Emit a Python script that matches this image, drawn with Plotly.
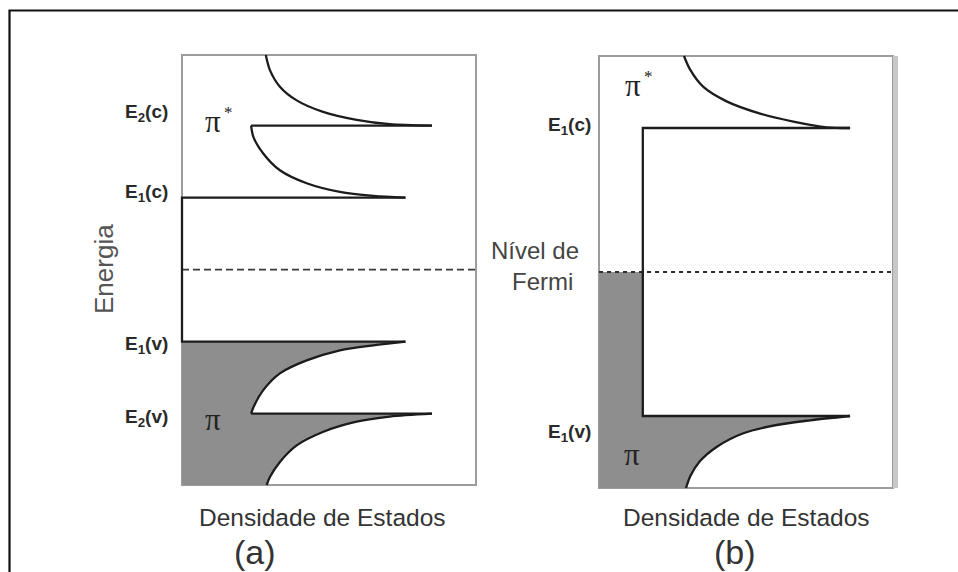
import plotly.graph_objects as go

# ---------------- data: density of states (arb. units) vs energy ----------------
# Panel (a): semiconducting tube, van Hove singularities at E = ±1, ±2
a_levels_c = [2.0, 1.0]          # E2(c), E1(c)
a_levels_v = [-1.0, -2.0]        # E1(v), E2(v)
a_top_dos = [0.285, 0.299, 0.333, 0.390, 0.480, 0.594, 0.707, 0.850]
a_top_E = [2.98, 2.77, 2.54, 2.35, 2.19, 2.08, 2.02, 2.00]
a_c1_dos = [0.235, 0.243, 0.277, 0.333, 0.424, 0.537, 0.651, 0.760]
a_c1_E = [2.00, 1.84, 1.61, 1.38, 1.20, 1.08, 1.025, 1.00]
a_v1_dos = [0.760, 0.651, 0.537, 0.424, 0.333, 0.277, 0.243, 0.235]
a_v1_E = [-1.00, -1.05, -1.12, -1.26, -1.44, -1.67, -1.91, -2.00]
a_v2_dos = [0.850, 0.707, 0.594, 0.481, 0.390, 0.333, 0.299, 0.288]
a_v2_E = [-2.00, -2.04, -2.11, -2.25, -2.44, -2.67, -2.88, -2.99]

# Panel (b): metallic tube, constant DOS inside the gap, singularities at E = ±2
b_levels = [2.0, -2.0]           # E1(c), E1(v)
b_plateau = 0.149
b_top_dos = [0.289, 0.310, 0.355, 0.434, 0.548, 0.661, 0.775, 0.854]
b_top_E = [3.00, 2.81, 2.57, 2.37, 2.20, 2.09, 2.01, 2.00]
b_v1_dos = [0.854, 0.718, 0.604, 0.491, 0.400, 0.343, 0.310, 0.296]
b_v1_E = [-2.00, -2.06, -2.125, -2.24, -2.43, -2.63, -2.84, -3.00]

fermi = 0.0

# ---------------- layout helpers ----------------
W, H = 958, 572
A_X, A_Y = [0.0, 1.0], [-2.99, 2.98]
B_X, B_Y = [0.0, 1.0], [-3.0, 3.0]


def frame(box, xr, yr, pad=0.03):
    l, t, r, b = box
    sx = (r - l) / (xr[1] - xr[0])
    sy = (b - t) / (yr[1] - yr[0])
    px = pad * (xr[1] - xr[0])
    py = pad * (yr[1] - yr[0])
    return ([xr[0] - px, xr[1] + px], [yr[0] - py, yr[1] + py],
            [(l - px * sx) / W, (r + px * sx) / W],
            [1 - (b + py * sy) / H, 1 - (t - py * sy) / H])


axr, ayr, axd, ayd = frame((182, 55, 476, 485), A_X, A_Y)
bxr, byr, bxd, byd = frame((599, 56, 893, 488), B_X, B_Y)

INK = "#1c1c1c"
FILL = "#8e8e8e"
BOX = "#9c9c9c"
SANS = "Liberation Sans, Arial, sans-serif"
SERIF = "Liberation Serif, Times New Roman, serif"

fig = go.Figure()


def add(x, y, ax, **kw):
    xa, ya = ("x", "y") if ax == "a" else ("x2", "y2")
    fig.add_trace(go.Scatter(x=x, y=y, xaxis=xa, yaxis=ya, mode="lines",
                             hoverinfo="skip", showlegend=False, **kw))


# ----- panel (a) -----
# occupied states (valence band) shaded
add([0] + a_v1_dos + a_v2_dos + [0], [a_levels_v[0]] + a_v1_E + a_v2_E + [A_Y[0]], "a",
    fill="toself", fillcolor=FILL, line=dict(width=0))
add(A_X, [fermi, fermi], "a", line=dict(color="#3a3a3a", width=1.6, dash="7px,4px"))
spl = dict(color=INK, width=2.3, shape="spline", smoothing=0.8)
lin = dict(color=INK, width=2.3)
add(a_top_dos, a_top_E, "a", line=spl)
add([a_top_dos[-1], a_c1_dos[0]], [a_levels_c[0]] * 2, "a", line=lin)
add(a_c1_dos, a_c1_E, "a", line=spl)
add([a_c1_dos[-1], 0, 0, a_v1_dos[0]],
    [a_levels_c[1], a_levels_c[1], a_levels_v[0], a_levels_v[0]], "a", line=lin)
add(a_v1_dos, a_v1_E, "a", line=spl)
add([a_v1_dos[-1], a_v2_dos[0]], [a_levels_v[1]] * 2, "a", line=lin)
add(a_v2_dos, a_v2_E, "a", line=spl)

# ----- panel (b) -----
add([0, b_plateau, b_plateau] + b_v1_dos + [0],
    [fermi, fermi, b_levels[1]] + b_v1_E + [B_Y[0]], "b",
    fill="toself", fillcolor=FILL, line=dict(width=0))
add(B_X, [fermi, fermi], "b", line=dict(color="#2e2e2e", width=2, dash="4px,4px"))
add(b_top_dos, b_top_E, "b", line=spl)
add([b_top_dos[-1], b_plateau, b_plateau, b_v1_dos[0]],
    [b_levels[0], b_levels[0], b_levels[1], b_levels[1]], "b", line=lin)
add(b_v1_dos, b_v1_E, "b", line=spl)

# ---------------- axes ----------------
hidden = dict(visible=False, fixedrange=True)
fig.update_layout(
    xaxis=dict(range=axr, domain=axd, anchor="y", **hidden),
    yaxis=dict(range=ayr, domain=ayd, anchor="x", **hidden),
    xaxis2=dict(range=bxr, domain=bxd, anchor="y2", **hidden),
    yaxis2=dict(range=byr, domain=byd, anchor="x2", **hidden),
)

shapes = [
    # outer frame
    dict(type="rect", xref="paper", yref="paper", x0=9.5 / W, x1=1.2,
         y0=-0.2, y1=1 - 10.5 / H, line=dict(color="#111", width=2.2)),
    # plot boxes
    dict(type="rect", xref="x", yref="y", x0=A_X[0], x1=A_X[1], y0=A_Y[0], y1=A_Y[1],
         line=dict(color=BOX, width=2), layer="below"),
    dict(type="rect", xref="x2", yref="y2", x0=B_X[0], x1=B_X[1], y0=B_Y[0], y1=B_Y[1],
         line=dict(color=BOX, width=2), layer="below"),
    dict(type="rect", xref="paper", yref="y2", x0=893 / W, x1=898 / W,
         y0=B_Y[0], y1=B_Y[1], line=dict(width=0), fillcolor="#c8c8c8"),
]
fig.update_layout(shapes=shapes)

ann = []


def txt(text, x, y, size, color="#333", family=SANS, yref="paper", yshift=0, **kw):
    ann.append(dict(text=text, x=x / W, y=(1 - y / H) if yref == "paper" else y,
                    xref="paper", yref=yref, yshift=yshift, showarrow=False,
                    font=dict(size=size, color=color, family=family),
                    xanchor=kw.pop("xanchor", "center"), yanchor=kw.pop("yanchor", "middle"), **kw))


lab = 19
lc = "#2a2a2a"
txt("<b>E<sub>2</sub>(c)</b>", 146, a_levels_c[0], lab, lc, yref="y", yshift=13)
txt("<b>E<sub>1</sub>(c)</b>", 146, a_levels_c[1], lab, lc, yref="y", yshift=5)
txt("<b>E<sub>1</sub>(v)</b>", 146, a_levels_v[0], lab, lc, yref="y", yshift=-3)
txt("<b>E<sub>2</sub>(v)</b>", 146, a_levels_v[1], lab, lc, yref="y", yshift=-4)
txt("<b>E<sub>1</sub>(c)</b>", 569, b_levels[0], lab, lc, yref="y2", yshift=2)
txt("<b>E<sub>1</sub>(v)</b>", 569, b_levels[1], lab, lc, yref="y2", yshift=-17)

# band labels: pi and pi-star
txt("π", 213, 121, 31, "#222", SERIF)
txt("*", 228, 112, 17, "#222", SERIF)
txt("π", 213, 419, 31, "#222", SERIF)
txt("π", 633, 86, 31, "#222", SERIF)
txt("*", 648, 77, 17, "#222", SERIF)
txt("π", 632, 454, 31, "#222", SERIF)

txt("Energia", 104, 269, 26, "#555", textangle=-90)
txt("Nível de", 535, 251, 24, "#444")
txt("Fermi", 542, 281, 24, "#444")

txt("Densidade de Estados", 322, 517, 24.5, "#333")
txt("Densidade de Estados", 746, 517, 24.5, "#333")
txt("(a)", 255, 552, 34, "#333")
txt("(b)", 735, 552, 34, "#333")

fig.update_layout(annotations=ann, width=W, height=H, autosize=False,
                  margin=dict(l=0, r=0, t=0, b=0),
                  paper_bgcolor="white", plot_bgcolor="rgba(0,0,0,0)")

fig.write_html("out.html")
